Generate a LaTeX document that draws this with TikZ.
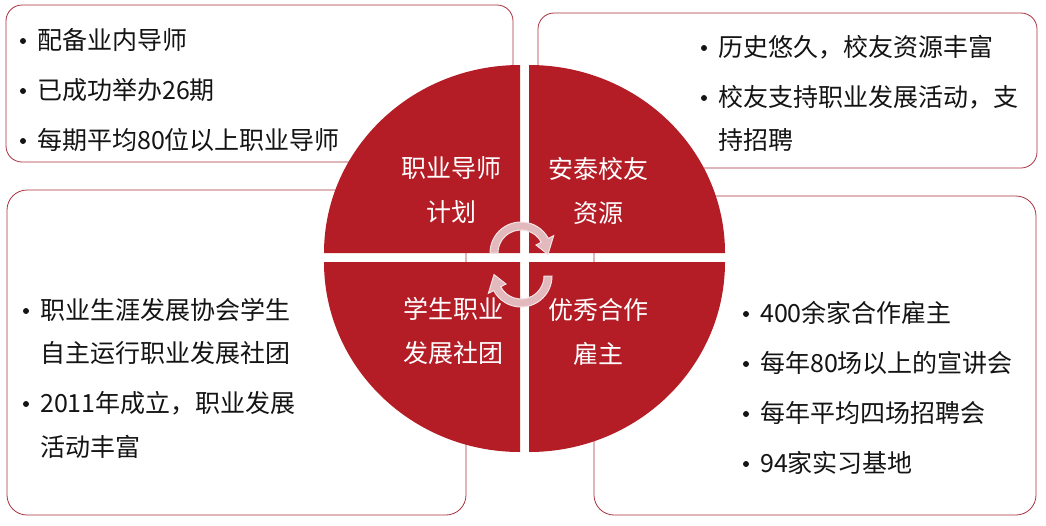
\documentclass[tikz,border=0pt]{standalone}
\usepackage{fontspec}
\setmainfont{Noto Sans CJK SC}
\usepackage{tikz}
\usetikzlibrary{calc}
\definecolor{cdred}{HTML}{B41C26}
\definecolor{cdline}{HTML}{A8323E}
\definecolor{cdtext}{HTML}{141414}
\definecolor{cdarrow}{HTML}{E2BABD}
\definecolor{cdarrowline}{HTML}{F3E3E4}

\begin{document}
\begin{tikzpicture}[x=1pt, y=-1pt,
    infobox/.style={draw=cdline, line width=0.8pt, fill=white, rounded corners=16pt},
    item/.style={anchor=west, inner sep=0pt, text=cdtext, font=\fontsize{25}{30}\selectfont},
    quadtext/.style={align=center, inner sep=0pt, text=white, font=\fontsize{25}{44}\selectfont},
    quad/.style={fill=cdred},
    turn/.style={fill=cdarrow, draw=cdarrowline, line width=1pt}]
\useasboundingbox (0,0) rectangle (1046,525);
% Info boxes
\draw[infobox] (6,5) rectangle (513,162);
\draw[infobox] (538,13) rectangle (1037,168);
\draw[infobox, rounded corners=20pt] (7,190) rectangle (466,515);
\draw[infobox, rounded corners=20pt] (594,196) rectangle (1036,515);
% Box texts
\node[item] (mentorA) at (37,40) {配备业内导师};
\node[item] (mentorB) at (37,90) {已成功举办26期};
\node[item] (mentorC) at (37,140) {每期平均80位以上职业导师};
\node[item] (alumniA) at (718,47) {历史悠久，校友资源丰富};
\node[item] (alumniB) at (718,97) {校友支持职业发展活动，支};
\node[item] (alumniC) at (718,140) {持招聘};
\node[item] (clubA) at (40,310) {职业生涯发展协会学生};
\node[item] (clubB) at (40,353) {自主运行职业发展社团};
\node[item] (clubC) at (40,403) {2011年成立，职业发展};
\node[item] (clubD) at (40,447) {活动丰富};
\node[item] (employerA) at (760,313) {400余家合作雇主};
\node[item] (employerB) at (760,363) {每年80场以上的宣讲会};
\node[item] (employerC) at (760,413) {每年平均四场招聘会};
\node[item] (employerD) at (760,463) {94家实习基地};
% Bullets
\foreach \n in {mentorA, mentorB, mentorC, alumniA, alumniB, clubA, clubC,
                employerA, employerB, employerC, employerD} {
    \fill[cdtext] ([xshift=-14pt, yshift=-1pt]\n.west) circle (3pt);
}
% Quadrants
\fill[quad] (520,253) -- ++(-196,0) arc[start angle=180, end angle=270, x radius=196, y radius=188] -- cycle;
\fill[quad] (529,253) -- ++(0,-188) arc[start angle=270, end angle=360, x radius=196, y radius=188] -- cycle;
\fill[quad] (520,262) -- ++(-196,0) arc[start angle=180, end angle=90, x radius=196, y radius=190] -- cycle;
\fill[quad] (529,262) -- ++(196,0) arc[start angle=0, end angle=90, x radius=196, y radius=190] -- cycle;
% Quadrant titles
\node[quadtext] (mentor) at (451,190) {职业导师\\计划};
\node[quadtext] (alumni) at (598,191) {安泰校友\\资源};
\node[quadtext] (club) at (453,331) {学生职业\\发展社团};
\node[quadtext] (employer) at (598,332) {优秀合作\\雇主};
% Cycle arrows
\coordinate (topturn) at (521,253);
\coordinate (botturn) at (521,276);
\draw[turn] ($(topturn)+(180:31)$) arc[start angle=180, end angle=332, radius=31]
    -- ($(topturn)+(332:37)$) -- ($(topturn)+(3:27)$) -- ($(topturn)+(332:17)$)
    -- ($(topturn)+(332:23)$) arc[start angle=332, end angle=180, radius=23] -- cycle;
\draw[turn] ($(botturn)+(0:31)$) arc[start angle=0, end angle=152, radius=31]
    -- ($(botturn)+(152:37)$) -- ($(botturn)+(183:27)$) -- ($(botturn)+(152:17)$)
    -- ($(botturn)+(152:23)$) arc[start angle=152, end angle=0, radius=23] -- cycle;
\end{tikzpicture}
\end{document}
